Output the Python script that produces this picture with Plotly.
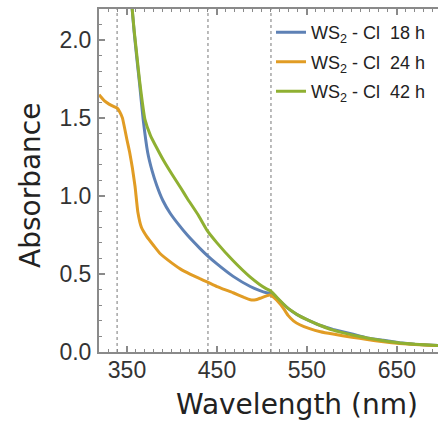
import plotly.graph_objects as go

# ---------------- data ----------------
wl_18 = [319, 330, 340, 350, 355, 358, 361, 364, 368, 373, 378, 383, 390, 398, 407, 417,
         431, 439, 450, 468, 487, 497, 505, 510, 516, 523, 530, 539, 553, 565, 579, 600,
         617, 635, 653, 670, 690, 700]
abs_18 = [3.6, 3.3, 3.0, 2.6, 2.25, 2.05, 1.88, 1.72, 1.49, 1.28, 1.16, 1.07, 0.97, 0.89, 0.82, 0.75,
          0.665, 0.62, 0.565, 0.485, 0.42, 0.395, 0.38, 0.375, 0.35, 0.31, 0.275, 0.24, 0.20, 0.17, 0.145, 0.115,
          0.09, 0.075, 0.06, 0.05, 0.043, 0.04]

wl_24 = [319, 325, 330, 335, 339, 342, 345, 350, 353, 356, 359, 362, 366, 372, 380, 387,
         400, 410, 420, 431, 439, 450, 468, 480, 487, 493, 498, 505, 509, 513, 520, 525,
         529, 535, 542, 553, 565, 579, 600, 617, 635, 653, 670, 690, 700]
abs_24 = [1.65, 1.61, 1.59, 1.575, 1.565, 1.54, 1.50, 1.36, 1.28, 1.18, 1.06, 0.90, 0.80, 0.74, 0.68, 0.63,
          0.57, 0.53, 0.50, 0.47, 0.45, 0.42, 0.38, 0.35, 0.335, 0.335, 0.345, 0.36, 0.365, 0.35, 0.31, 0.27,
          0.235, 0.20, 0.175, 0.15, 0.13, 0.115, 0.095, 0.08, 0.065, 0.055, 0.048, 0.042, 0.04]

wl_42 = [319, 330, 340, 350, 355, 358, 361, 364, 370, 376, 383, 391, 400, 410, 417, 429,
         439, 450, 468, 487, 497, 505, 510, 515, 520, 527, 534, 542, 553, 565, 579, 600,
         617, 635, 653, 670, 690, 700]
abs_42 = [3.6, 3.3, 3.0, 2.6, 2.25, 2.06, 1.90, 1.74, 1.49, 1.39, 1.31, 1.225, 1.14, 1.05, 0.985, 0.88,
          0.78, 0.70, 0.585, 0.48, 0.435, 0.405, 0.39, 0.36, 0.33, 0.29, 0.26, 0.23, 0.20, 0.17, 0.14, 0.11,
          0.09, 0.072, 0.058, 0.05, 0.043, 0.04]

series_names = ["WS<sub>2</sub> - Cl\u00a0\u00a018 h",
                "WS<sub>2</sub> - Cl\u00a0\u00a024 h",
                "WS<sub>2</sub> - Cl\u00a0\u00a042 h"]
series_colors = ["#5E81B5", "#E19C24", "#8FB032"]

marker_wavelengths = [339, 440, 510]

x_ticks = [350, 450, 550, 650]
y_ticks = [0.0, 0.5, 1.0, 1.5, 2.0]

# ---------------- figure ----------------
fig = go.Figure()
for i, (wl, ab) in enumerate([(wl_18, abs_18), (wl_24, abs_24), (wl_42, abs_42)]):
    fig.add_trace(go.Scatter(
        x=wl, y=ab, mode="lines", name=series_names[i],
        legendgroup=f"g{i}",
        line=dict(color=series_colors[i], width=3, shape="spline", smoothing=0.35),
        cliponaxis=True,
    ))

for w in marker_wavelengths:
    fig.add_shape(type="line", xref="x", yref="paper", x0=w, x1=w, y0=0, y1=1,
                  line=dict(color="#777777", width=1, dash="3px,3px"), layer="below")

axis_common = dict(
    showline=True, linecolor="#8a8a8a", linewidth=2,
    ticks="inside", ticklen=6, tickwidth=1.5, tickcolor="#8a8a8a",
    showgrid=False, zeroline=False,
    tickfont=dict(family="Liberation Sans, Arial, sans-serif", size=23, color="#333333"),
)

fig.update_layout(
    width=438, height=426,
    margin=dict(l=99, r=0, t=9, b=74),
    paper_bgcolor="white", plot_bgcolor="white",
    xaxis=dict(range=[318.9, 695.6], tickvals=x_ticks, ticktext=[str(v) for v in x_ticks],
               mirror="ticks",
               minor=dict(ticks="inside", ticklen=3, dtick=10, tick0=350, tickcolor="#8a8a8a", tickwidth=1),
               ticklabelstandoff=-4,
               **axis_common),
    yaxis=dict(range=[0, 2.2], tickvals=y_ticks, ticktext=[f"{v:.1f}" for v in y_ticks],
               minor=dict(ticks="inside", ticklen=3, dtick=0.1, tick0=0, tickcolor="#8a8a8a", tickwidth=1),
               ticklabelstandoff=1,
               **axis_common),
    showlegend=True,
    legend=dict(x=(271 - 99) / 339, y=0.985, xanchor="left", yanchor="top",
                bgcolor="rgba(255,255,255,0)", borderwidth=0,
                tracegroupgap=3,
                font=dict(family="Liberation Sans, Arial, sans-serif", size=18, color="#222222")),
    annotations=[
        dict(text="Wavelength (nm)", xref="paper", yref="paper",
             x=(297 - 99) / 339, y=-(405 - 352) / 343, xanchor="center", yanchor="middle",
             showarrow=False, font=dict(family="DejaVu Sans", size=28, color="#222222")),
        dict(text="Absorbance", xref="paper", yref="paper", textangle=-90,
             x=-(99 - 30) / 339, y=(352 - 186) / 343, xanchor="center", yanchor="middle",
             showarrow=False, font=dict(family="DejaVu Sans", size=28, color="#222222")),
    ],
)

fig.write_html("out.html")
